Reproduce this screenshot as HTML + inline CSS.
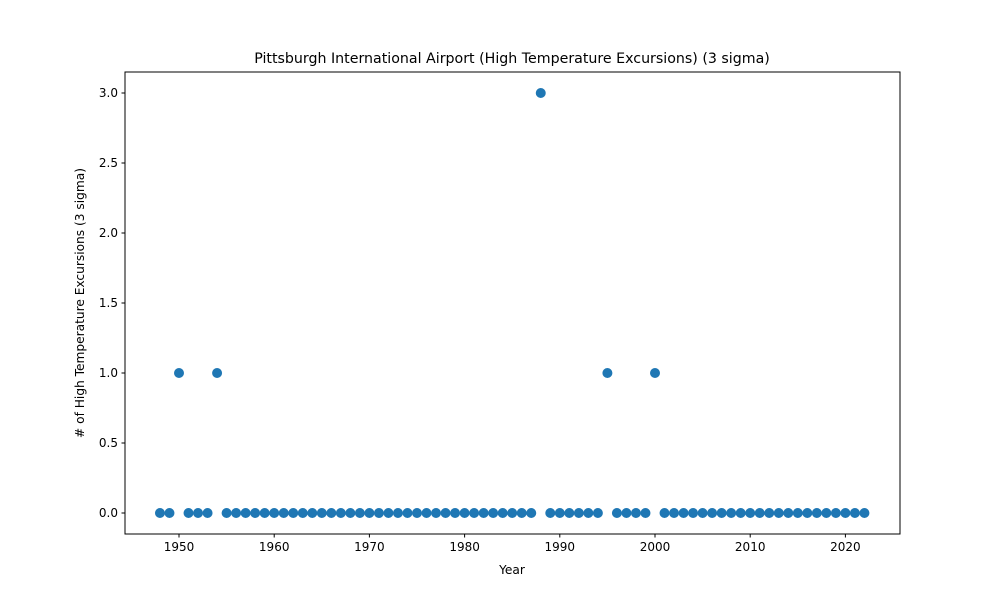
<!DOCTYPE html>
<html><head><meta charset="utf-8"><style>body{margin:0;background:#fff}svg{font-family:"DejaVu Sans","Liberation Sans",sans-serif}</style></head>
<body>
<svg id="c" width="1000" height="600" xmlns="http://www.w3.org/2000/svg"></svg>
<script>
const years=[];for(let y=1948;y<=2022;y++)years.push(y);
const specialYears=[1950,1954,1988,1995,2000];
const specialValues=[1,1,3,1,1];
const values=years.map(y=>{const i=specialYears.indexOf(y);return i<0?0:specialValues[i];});
const xTicks=[1950,1960,1970,1980,1990,2000,2010,2020];
const yTicks=[0,0.5,1,1.5,2,2.5,3];
const L=125,R=900,T=72,B=534;
const X=v=>179+(v-1950)*(655-179)/50;
const Y=v=>513-v*140;
const s=document.getElementById('c');const NS='http://www.w3.org/2000/svg';
function mk(t,a,txt){const e=document.createElementNS(NS,t);for(const k in a)e.setAttribute(k,a[k]);if(txt!=null)e.textContent=txt;s.appendChild(e);return e;}
let e=mk('rect',{x:L,y:T,width:R-L,height:B-T,fill:'none',stroke:'#000','stroke-width':1});


xTicks.forEach(t=>{const x=X(t);
let l=mk('line',{x1:x,x2:x,y1:B,y2:B+3.5,stroke:'#000'});


let tx=mk('text',{x:x,y:B+17,'font-size':12,'text-anchor':'middle'},String(t));

});
yTicks.forEach(t=>{const y=Y(t);
let l=mk('line',{x1:L-3.5,x2:L,y1:y,y2:y,stroke:'#000'});


let tx=mk('text',{x:L-7,y:y+4,'font-size':12,'text-anchor':'end'},t.toFixed(1));

});
years.forEach((y,i)=>{let c=mk('circle',{cx:X(y),cy:Y(values[i]),r:5,fill:'#1f77b4'});

});
e=mk('text',{x:512,y:63,'font-size':14.2,'text-anchor':'middle'},'Pittsburgh International Airport (High Temperature Excursions) (3 sigma)');


e=mk('text',{x:512,y:574,'font-size':12.2,'text-anchor':'middle'},'Year');


e=mk('text',{x:0,y:0,'font-size':12.2,'text-anchor':'middle',transform:'translate(84,303) rotate(-90)'},'# of High Temperature Excursions (3 sigma)');


</script>
</body></html>
